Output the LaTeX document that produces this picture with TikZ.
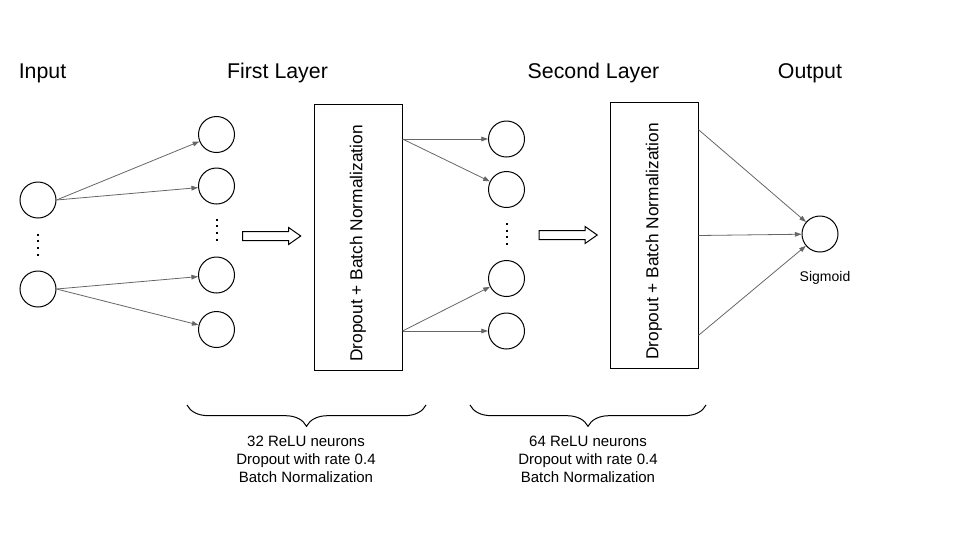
\documentclass[tikz,border=0pt]{standalone}
\usepackage{fontspec}
\setmainfont{Liberation Sans}
\usetikzlibrary{arrows.meta,shapes.arrows,decorations.pathreplacing,calc}

\tikzset{every picture/.style={line width=0.75pt}}
\tikzset{
  neuron/.style={draw, circle, minimum size=27pt, inner sep=0pt},
  layerbox/.style={draw, rectangle, minimum width=66pt, minimum height=200pt, inner sep=0pt},
  boxtext/.style={rotate=90, font=\fontsize{13}{15}\selectfont, inner sep=0pt},
  title/.style={font=\fontsize{16}{19}\selectfont, inner sep=0pt, anchor=base},
  shiftarrow/.style={draw, single arrow, minimum width=12pt, minimum height=43.5pt, single arrow head extend=3pt, single arrow tip angle=70, inner xsep=0pt, inner ysep=3pt},
  link/.style={draw={rgb,255:red,102;green,102;blue,102}, line width=0.6pt, -{Triangle[length=5pt,width=3.5pt]}},
  vdots/.style={line width=1.5pt, dash pattern=on 1.5pt off 3.5pt},
  info/.style={font=\fontsize{11.25}{13.5}\selectfont, align=center, inner sep=0pt, anchor=north},
  underbrace/.style={decorate, decoration={brace, mirror, amplitude=16pt}}
}

\begin{document}
\begin{tikzpicture}[x=0.75pt,y=0.75pt,yscale=-1,xscale=1]
\useasboundingbox (0,0) rectangle (960,540);

% Titles
\node[title] (tin) at (42.5,78) {Input};
\node[title] (tfirst) at (277.5,78) {First Layer};
\node[title] (tsecond) at (593.5,78) {Second Layer};
\node[title] (tout) at (810,78) {Output};

% Input neurons
\node[neuron] (in1) at (38,200) {};
\node[neuron] (in2) at (38,289) {};
\draw[vdots] ($(in1.south)+(0,15)$) -- ($(in2.north)+(0,-13)$);

% First layer neurons
\node[neuron] (l1a) at (216.5,134.5) {};
\node[neuron] (l1b) at (216.5,186) {};
\node[neuron] (l1c) at (216.5,275) {};
\node[neuron] (l1d) at (216.5,329.5) {};
\draw[vdots] ($(l1b.south)+(0,14)$) -- ($(l1c.north)+(0,-12)$);

% Connection
\draw[link] (in1.east) -- (l1a);
\draw[link] (in1.east) -- (l1b);
\draw[link] (in2.east) -- (l1c);
\draw[link] (in2.east) -- (l1d);

% Shift arrow
\node[shiftarrow] (sh1) at (268.5,236) {};

% Box 1
\node[layerbox] (box1) at (358,237.5) {};
\node[boxtext] (box1t) at ($(box1)+(0,6)$) {Dropout + Batch Normalization};

% Second layer neurons
\node[neuron] (l2a) at (506.5,139) {};
\node[neuron] (l2b) at (506.5,189.5) {};
\node[neuron] (l2c) at (506.5,278.5) {};
\node[neuron] (l2d) at (506.5,331) {};
\draw[vdots] ($(l2b.south)+(0,15)$) -- ($(l2c.north)+(0,-12)$);

% Connection
\draw[link] (box1.east |- l2a) -- (l2a);
\draw[link] (box1.east |- l2a) -- (l2b);
\draw[link] (box1.east |- l2d) -- (l2c);
\draw[link] (box1.east |- l2d) -- (l2d);

% Shift arrow
\node[shiftarrow] (sh2) at (565,235) {};

% Box 2
\node[layerbox] (box2) at (654,235.5) {};
\node[boxtext] (box2t) at ($(box2)+(0,6)$) {Dropout + Batch Normalization};

% Output neuron
\node[neuron] (out) at (820,234) {};
\node[font=\fontsize{10.5}{12}\selectfont, inner sep=0pt, anchor=base] (sig) at (825,281) {Sigmoid};

% Connection
\draw[link] ($(box2.north east)+(0,28)$) -- (out);
\draw[link] (box2.east) -- (out);
\draw[link] ($(box2.south east)+(0,-34)$) -- (out);

% Braces
\coordinate (b1l) at (187,405);
\coordinate (b1r) at (426,405);
\draw[underbrace] (b1l) -- (b1r);
\node[info] (info1) at (306,436) {32 ReLU neurons\\Dropout with rate 0.4\\Batch Normalization};

\coordinate (b2l) at (470,405);
\coordinate (b2r) at (706,405);
\draw[underbrace] (b2l) -- (b2r);
\node[info] (info2) at (588,436) {64 ReLU neurons\\Dropout with rate 0.4\\Batch Normalization};

\end{tikzpicture}
\end{document}
